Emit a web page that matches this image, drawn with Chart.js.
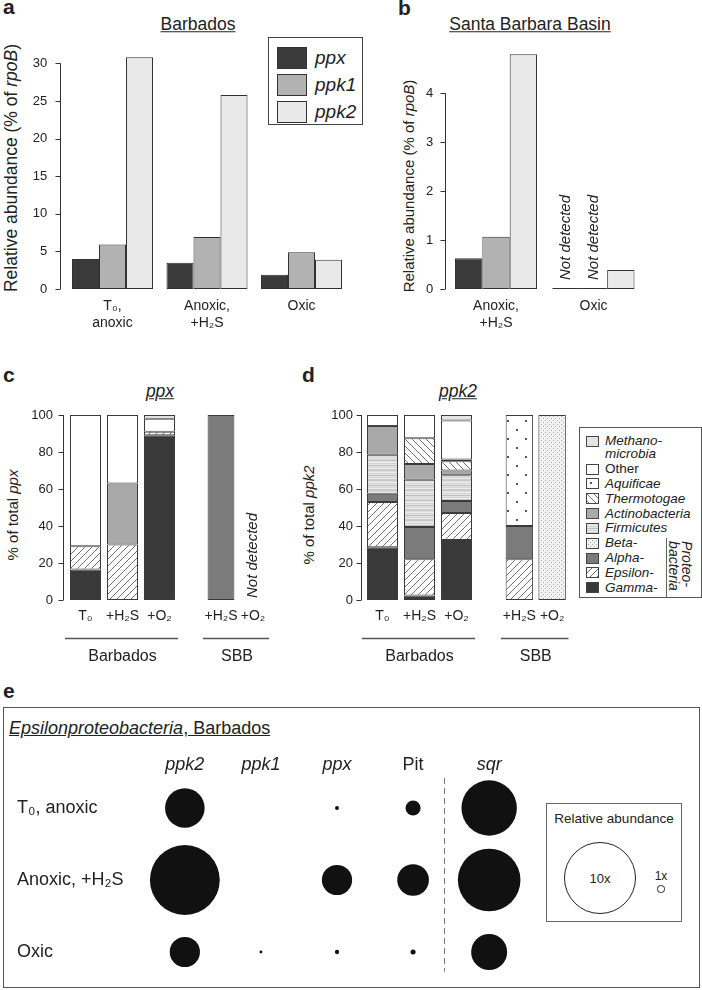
<!DOCTYPE html>
<html>
<head>
<meta charset="utf-8">
<title>Polyphosphate genes - Barbados / Santa Barbara Basin</title>
<script src="https://cdn.jsdelivr.net/npm/chart.js@4.4.1/dist/chart.umd.min.js"></script>
<style>
  body { margin: 0; background: #fff; }
  #page { position: relative; width: 702px; height: 990px; overflow: hidden;
          font-family: "Liberation Sans", Arial, sans-serif; color: #222; }
  #page canvas { position: absolute; }
  .txt { position: absolute; white-space: nowrap; line-height: 1; }
  .letter { font-size: 21px; font-weight: bold; }
  .title { font-size: 17.5px; text-decoration: underline; transform: translate(-50%, -50%); }
  .ytitle { font-size: 15px; transform: translate(-50%, -50%) rotate(-90deg); }
  .box { position: absolute; box-sizing: border-box; border: 1.5px solid #444; background: #fff; }
  .sw { position: absolute; box-sizing: border-box; border: 1.5px solid #333; }
</style>
</head>
<body>
<div id="page">
  <!-- panel letters and titles -->
  <div class="txt letter" style="left:3px;top:-4px">a</div>
  <div class="txt letter" style="left:398px;top:-3px">b</div>
  <div class="txt letter" style="left:3px;top:364px">c</div>
  <div class="txt letter" style="left:302px;top:364px">d</div>
  <div class="txt letter" style="left:3px;top:680px">e</div>

  <div class="txt title" style="left:198px;top:25px">Barbados</div>
  <div class="txt title" style="left:530px;top:25px">Santa Barbara Basin</div>
  <div class="txt title" style="left:160px;top:392px"><i>ppx</i></div>
  <div class="txt title" style="left:458px;top:392px"><i>ppk2</i></div>

  <div class="txt ytitle" style="left:12px;top:168px;font-size:17.5px">Relative abundance (% of <i>rpoB</i>)</div>
  <div class="txt ytitle" style="left:408px;top:186px">Relative abundance (% of <i>rpoB</i>)</div>
  <div class="txt ytitle" style="left:12px;top:515px">% of total <i>ppx</i></div>
  <div class="txt ytitle" style="left:308px;top:515px">% of total <i>ppk2</i></div>

  <canvas id="chartA" width="360" height="310" style="left:0;top:30px"></canvas>
  <canvas id="chartB" width="342" height="310" style="left:360px;top:30px"></canvas>
  <canvas id="chartC1" width="190" height="300" style="left:0;top:380px"></canvas>
  <canvas id="chartC2" width="100" height="300" style="left:185px;top:380px"></canvas>
  <canvas id="chartD1" width="195" height="300" style="left:290px;top:380px"></canvas>
  <canvas id="chartD2" width="95" height="300" style="left:485px;top:380px"></canvas>

  <div id="legendA"></div>
  <div id="legendD"></div>

  <!-- panel e -->
  <div class="box" style="left:3px;top:707px;width:697px;height:281px;border-color:#555"></div>
  <div class="txt" style="left:9px;top:719px;font-size:18px;text-decoration:underline"><i>Epsilonproteobacteria</i>, Barbados</div>
  <canvas id="chartE" width="695" height="279" style="left:4px;top:708px"></canvas>
  <div id="legendE"></div>
</div>

<script>
const FONT = "'Liberation Sans', Arial, sans-serif";
const INK = '#333';

// ---- panels a and b: relative abundance (% of rpoB) ----
const GENES = ['ppx', 'ppk1', 'ppk2'];
const GENE_COLORS = ['#3b3b3b', '#b2b2b2', '#e9e9e9'];

const BARBADOS_SAMPLES = [['T₀,', 'anoxic'], ['Anoxic,', '+H₂S'], 'Oxic'];
const BARBADOS_PPX = [4.0, 3.5, 1.9];
const BARBADOS_PPK1 = [5.9, 6.9, 4.9];
const BARBADOS_PPK2 = [30.8, 25.8, 3.9];
const BARBADOS_TICKS = [0, 5, 10, 15, 20, 25, 30];

const SBB_SAMPLES = [['Anoxic,', '+H₂S'], 'Oxic'];
const SBB_PPX = [0.63, 0];     // 0 = not detected
const SBB_PPK1 = [1.07, 0];
const SBB_PPK2 = [4.8, 0.39];
const SBB_TICKS = [0, 1, 2, 3, 4];

// ---- panels c and d: taxonomic share (%) ----
// stacking order, bottom to top
const TAXA = ['Gamma-', 'Epsilon-', 'Alpha-', 'Beta-', 'Firmicutes', 'Actinobacteria',
              'Thermotogae', 'Aquificae', 'Other', 'Methano-\nmicrobia'];
const TREATMENTS = ['T₀', '+H₂S', '+O₂'];
const SBB_TREATMENTS = ['+H₂S', '+O₂'];
const PCT_TICKS = [0, 20, 40, 60, 80, 100];

// rows follow TAXA; columns: Barbados T0, +H2S, +O2, SBB +H2S, SBB +O2
const PPX_SHARE = [
  [16.5, 0, 89, 0, 0],
  [12.5, 30, 2, 0, 0],
  [0, 0, 0, 100, 0],
  [0, 0, 0, 0, 0],
  [0, 0, 0, 0, 0],
  [0, 33, 0, 0, 0],
  [0, 0, 0, 0, 0],
  [0, 0, 0, 0, 0],
  [71, 37, 7, 0, 0],
  [0, 0, 2, 0, 0]
];
const PPK2_SHARE = [
  [28.5, 2.5, 32.5, 0, 0],
  [24.5, 19.5, 14.5, 22, 0],
  [4.5, 17.5, 6.5, 18, 0],
  [0, 0, 0, 0, 100],
  [21, 25.5, 14, 0, 0],
  [15.5, 8.5, 2.5, 0, 0],
  [0, 14, 5, 0, 0],
  [0, 0, 1, 60, 0],
  [6, 12.5, 21, 0, 0],
  [0, 0, 3, 0, 0]
];

// ---- panel e: Epsilonproteobacteria, Barbados (x-fold relative abundance) ----
const E_GENES = ['ppk2', 'ppk1', 'ppx', 'Pit', 'sqr'];
const E_CONDITIONS = ['T₀, anoxic', 'Anoxic, +H₂S', 'Oxic'];
const E_PPK2 = [5.5, 9.7, 4.2];
const E_PPK1 = [0, 0, 0.4];
const E_PPX = [0.55, 4.2, 0.6];
const E_PIT = [2.1, 4.4, 0.7];
const E_SQR = [7.7, 8.7, 5.0];
const R_PER_X = 3.6;   // bubble radius (px) for 1x

Chart.defaults.font.family = FONT;
Chart.defaults.font.size = 13;
Chart.defaults.color = '#222';
Chart.defaults.animation = false;
Chart.defaults.plugins.legend.display = false;
Chart.defaults.plugins.tooltip.enabled = false;

// fill patterns
function makePattern(w, h, paint) {
  const c = document.createElement('canvas');
  c.width = w; c.height = h;
  const g = c.getContext('2d');
  g.fillStyle = '#fff';
  g.fillRect(0, 0, w, h);
  paint(g, w, h);
  return g.createPattern(c, 'repeat');
}
function hatch(dir) {
  return makePattern(7, 7, (g, s) => {
    g.strokeStyle = '#6e6e6e';
    g.lineWidth = 1;
    g.beginPath();
    for (let k = -1; k <= 1; k++) {
      if (dir > 0) { g.moveTo(k * s - 1, s + 1); g.lineTo(k * s + s + 1, -1); }
      else { g.moveTo(k * s - 1, -1); g.lineTo(k * s + s + 1, s + 1); }
    }
    g.stroke();
  });
}
const PAT_EPSILON = hatch(1);
const PAT_THERMO = hatch(-1);
const PAT_FIRMI = makePattern(2, 10, (g) => {
  ['#c9c9c9', '#dedede', '#eeeeee', '#d2d2d2', '#e6e6e6', '#bfbfbf', '#e2e2e2', '#d6d6d6', '#ececec', '#cccccc']
    .forEach((col, i) => { g.fillStyle = col; g.fillRect(0, i, 2, 1); });
});
const PAT_AQUI = makePattern(18, 18, (g) => {
  g.fillStyle = '#555';
  g.fillRect(4, 4, 2, 2);
  g.fillRect(13, 13, 2, 2);
});
const PAT_BETA = makePattern(4, 4, (g) => {
  g.fillStyle = '#f3f3f3';
  g.fillRect(0, 0, 4, 4);
  g.fillStyle = '#a5a5a5';
  g.fillRect(0, 0, 1, 1);
  g.fillRect(2, 2, 1, 1);
});
const TAXON_FILLS = ['#393939', PAT_EPSILON, '#7b7b7b', PAT_BETA, PAT_FIRMI, '#a9a9a9',
                     PAT_THERMO, PAT_AQUI, '#ffffff', '#e4e4e4'];

// extra drawing: R-style axes, zero bars, "Not detected", group labels, bubble grid text
const figurePlugin = {
  id: 'figure',
  afterDatasetsDraw(chart, args, o) {
    const ctx = chart.ctx;
    const area = chart.chartArea;
    const xs = chart.scales.x;
    const ys = chart.scales.y;
    ctx.save();
    ctx.strokeStyle = INK;
    ctx.fillStyle = '#222';
    ctx.lineWidth = 1;

    if (o.axisGap != null) {
      const ax = Math.round(area.left - o.axisGap) + 0.5;
      const vals = ys.ticks.map(t => t.value);
      ctx.beginPath();
      ctx.moveTo(ax, ys.getPixelForValue(vals[0]));
      ctx.lineTo(ax, ys.getPixelForValue(vals[vals.length - 1]));
      vals.forEach(v => {
        const py = Math.round(ys.getPixelForValue(v)) + 0.5;
        ctx.moveTo(ax, py);
        ctx.lineTo(ax - 5, py);
      });
      ctx.stroke();
    }

    if (o.zeroLines) {
      ctx.beginPath();
      chart.data.datasets.forEach((ds, di) => {
        chart.getDatasetMeta(di).data.forEach((bar, i) => {
          if (ds.data[i] === 0) {
            const by = Math.round(bar.base) - 0.5;
            ctx.moveTo(bar.x - bar.width / 2, by);
            ctx.lineTo(bar.x + bar.width / 2, by);
          }
        });
      });
      ctx.stroke();
    }

    if (o.notDetected) {
      const spots = [];
      if (o.notDetected.stacked) {
        chart.data.labels.forEach((l, i) => {
          const total = chart.data.datasets.reduce((s, ds) => s + (ds.data[i] || 0), 0);
          if (total === 0) spots.push(xs.getPixelForValue(i));
        });
      } else {
        chart.data.datasets.forEach((ds, di) => {
          chart.getDatasetMeta(di).data.forEach((bar, i) => {
            if (ds.data[i] === 0) spots.push(bar.x);
          });
        });
      }
      ctx.font = 'italic 15px ' + FONT;
      ctx.textAlign = 'left';
      ctx.textBaseline = 'middle';
      spots.forEach(x => {
        ctx.save();
        ctx.translate(x, ys.getPixelForValue(0) - o.notDetected.offset);
        ctx.rotate(-Math.PI / 2);
        ctx.fillText('Not detected', 0, 0);
        ctx.restore();
      });
    }

    if (o.group) {
      const gy = Math.round(area.bottom + 38) + 0.5;
      ctx.strokeStyle = '#555';
      ctx.lineWidth = 1.5;
      ctx.beginPath();
      ctx.moveTo(area.left - 2, gy);
      ctx.lineTo(area.right, gy);
      ctx.stroke();
      ctx.font = '16px ' + FONT;
      ctx.textAlign = 'center';
      ctx.textBaseline = 'middle';
      ctx.fillText(o.group, (area.left + area.right) / 2, area.bottom + 57);
    }

    if (o.bubbleGrid) {
      ctx.textBaseline = 'middle';
      ctx.textAlign = 'center';
      E_GENES.forEach((g, i) => {
        ctx.font = (g === 'Pit' ? '' : 'italic ') + '18px ' + FONT;
        ctx.fillText(g, xs.getPixelForValue(i), area.top - 7);
      });
      ctx.textAlign = 'left';
      ctx.font = '18px ' + FONT;
      E_CONDITIONS.forEach((c, i) => ctx.fillText(c, 13, ys.getPixelForValue(i)));
      const sx = Math.round(xs.getPixelForValue(o.bubbleGrid.separator)) + 0.5;
      ctx.strokeStyle = '#777';
      ctx.lineWidth = 1;
      ctx.setLineDash([6, 4]);
      ctx.beginPath();
      ctx.moveTo(sx, area.top + 6);
      ctx.lineTo(sx, area.bottom - 9);
      ctx.stroke();
    }
    ctx.restore();
  }
};
Chart.register(figurePlugin);

// options with a pinned chart area (canvas coordinates)
function pinnedScales(f, yMax, ticks, stacked, tickFont) {
  return {
    x: {
      stacked: stacked,
      grid: { display: false, drawTicks: false },
      border: { display: false },
      ticks: { padding: f.xPad, font: { size: tickFont }, maxRotation: 0, autoSkip: false },
      afterFit: s => { s.height = f.h - f.bottom; }
    },
    y: {
      stacked: stacked,
      display: f.yAxis,
      min: 0,
      max: yMax,
      grid: { display: false, drawTicks: false },
      border: { display: false },
      ticks: { padding: f.tickPad, font: { size: 13 } },
      afterBuildTicks: s => { s.ticks = ticks.map(v => ({ value: v })); },
      afterFit: s => { s.width = f.left; }
    }
  };
}

function geneChart(id, labels, series, ticks, yMax, f, extra) {
  return new Chart(document.getElementById(id), {
    type: 'bar',
    data: {
      labels: labels,
      datasets: GENES.map((g, i) => ({
        label: g,
        data: series[i],
        backgroundColor: GENE_COLORS[i],
        borderColor: INK,
        borderWidth: 1,
        borderSkipped: false,
        categoryPercentage: f.catPct,
        barPercentage: 1
      }))
    },
    options: {
      responsive: false,
      layout: { autoPadding: false, padding: { left: 0, right: f.w - f.right, top: f.top, bottom: 0 } },
      scales: pinnedScales(Object.assign({ yAxis: true, xPad: 9 }, f), yMax, ticks, false, 14),
      plugins: { figure: Object.assign({ axisGap: f.gap }, extra) }
    }
  });
}

function shareChart(id, share, cols, labels, f, extra) {
  return new Chart(document.getElementById(id), {
    type: 'bar',
    data: {
      labels: labels,
      datasets: TAXA.map((t, i) => ({
        label: t,
        data: cols.map(c => share[i][c] || null),
        backgroundColor: TAXON_FILLS[i],
        borderColor: '#3a3a3a',
        borderWidth: 1,
        borderSkipped: false,
        categoryPercentage: 31 / 37,
        barPercentage: 1
      }))
    },
    options: {
      responsive: false,
      layout: { autoPadding: false, padding: { left: f.yAxis ? 0 : f.left, right: f.w - f.right, top: f.top, bottom: 0 } },
      scales: pinnedScales(Object.assign({ xPad: 8 }, f), 100, PCT_TICKS, true, 14),
      plugins: { figure: Object.assign(f.yAxis ? { axisGap: f.gap } : {}, extra) }
    }
  });
}

// panel a
geneChart('chartA', BARBADOS_SAMPLES, [BARBADOS_PPX, BARBADOS_PPK1, BARBADOS_PPK2], BARBADOS_TICKS, 31,
  { w: 360, h: 310, left: 65.25, right: 348.75, top: 12, bottom: 259, gap: 5.25, tickPad: 18, catPct: 81 / 94.5 }, {});

// panel b
geneChart('chartB', SBB_SAMPLES, [SBB_PPX, SBB_PPK1, SBB_PPK2], SBB_TICKS, 4.85,
  { w: 342, h: 310, left: 87.25, right: 282.25, top: 10.4, bottom: 259, gap: 2.25, tickPad: 14, catPct: 82 / 97.5 },
  { zeroLines: true, notDetected: { stacked: false, offset: 9 } });

// panel c
shareChart('chartC1', PPX_SHARE, [0, 1, 2], TREATMENTS,
  { w: 190, h: 300, left: 67, right: 178, top: 35, bottom: 220, gap: 4, tickPad: 14, yAxis: true },
  { group: 'Barbados' });
shareChart('chartC2', PPX_SHARE, [3, 4], SBB_TREATMENTS,
  { w: 100, h: 300, left: 10, right: 84, top: 35, bottom: 220, yAxis: false },
  { group: 'SBB', notDetected: { stacked: true, offset: 2 } });

// panel d
shareChart('chartD1', PPK2_SHARE, [0, 1, 2], TREATMENTS,
  { w: 195, h: 300, left: 74, right: 185, top: 35, bottom: 220, gap: 3, tickPad: 11, yAxis: true },
  { group: 'Barbados' });
shareChart('chartD2', PPK2_SHARE, [3, 4], SBB_TREATMENTS,
  { w: 95, h: 300, left: 9, right: 83.5, top: 35, bottom: 220, yAxis: false },
  { group: 'SBB' });

// panel e (bubble grid)
const E_SERIES = [E_PPK2, E_PPK1, E_PPX, E_PIT, E_SQR];
const bubbles = [];
E_SERIES.forEach((vals, gi) => vals.forEach((v, ri) => {
  if (v > 0) bubbles.push({ x: gi, y: ri, r: v * R_PER_X });
}));
new Chart(document.getElementById('chartE'), {
  type: 'bubble',
  data: { datasets: [{ data: bubbles, backgroundColor: '#111', borderWidth: 0, hoverRadius: 0, clip: false }] },
  options: {
    responsive: false,
    layout: { autoPadding: false, padding: { left: 142.8, right: 171.8, top: 64, bottom: 6.2 } },
    scales: {
      x: { type: 'linear', min: -0.5, max: 4.5, display: false },
      y: { type: 'linear', min: -0.5, max: 2.4, reverse: true, display: false }
    },
    plugins: { figure: { bubbleGrid: { separator: 3.4 } } }
  }
});

// legend a
(function () {
  const host = document.getElementById('legendA');
  let html = '<div class="box" style="left:268px;top:37px;width:95px;height:88px"></div>';
  GENES.forEach((g, i) => {
    const cy = 58 + i * 27;
    html += '<div class="sw" style="left:277px;top:' + (cy - 11) + 'px;width:30px;height:22px;background:' + GENE_COLORS[i] + '"></div>';
    html += '<div class="txt" style="left:315px;top:' + (cy - 10) + 'px;font-size:19px;font-style:italic">' + g + '</div>';
  });
  host.innerHTML = html;
})();

// legend d (pattern swatches)
(function () {
  const host = document.getElementById('legendD');
  const page = document.getElementById('page');
  let html = '<div class="box" style="left:579px;top:427px;width:123px;height:171px;border-color:#555"></div>';
  let cy = 441;
  const rows = [];
  for (let i = TAXA.length - 1; i >= 0; i--) {
    const lines = TAXA[i].split('\n');
    rows.push({ i: i, cy: cy });
    lines.forEach((ln, k) => {
      html += '<div class="txt" style="left:605px;top:' + (cy + k * 13 - 7) + 'px;font-size:13.5px;' +
        (TAXA[i] === 'Other' ? '' : 'font-style:italic') + '">' + ln + '</div>';
    });
    cy += 14.85 + (lines.length - 1) * 13.15;
  }
  html += '<div style="position:absolute;left:666px;top:538px;width:1px;height:59px;background:#666"></div>';
  html += '<div class="txt" style="left:680px;top:566px;font-size:14px;font-style:italic;line-height:13px;text-align:left;' +
    'transform:translate(-50%,-50%) rotate(90deg)">Proteo-<br>bacteria</div>';
  host.innerHTML = html;
  rows.forEach(r => {
    const c = document.createElement('canvas');
    c.width = 13; c.height = 11;
    c.style.left = '586px';
    c.style.top = Math.round(r.cy - 5.5) + 'px';
    const g = c.getContext('2d');
    g.fillStyle = TAXON_FILLS[r.i];
    g.fillRect(0, 0, 13, 11);
    g.strokeStyle = '#444';
    g.lineWidth = 1;
    g.strokeRect(0.5, 0.5, 12, 10);
    page.appendChild(c);
  });
})();

// legend e (circle scale)
(function () {
  const host = document.getElementById('legendE');
  const big = 10 * R_PER_X, small = 1 * R_PER_X;
  host.innerHTML =
    '<div class="box" style="left:546px;top:803px;width:136px;height:119px;border-color:#666"></div>' +
    '<div class="txt" style="left:614px;top:819px;font-size:13.5px;transform:translate(-50%,-50%)">Relative abundance</div>' +
    '<div style="position:absolute;box-sizing:border-box;border:1.5px solid #222;border-radius:50%;left:' + (600 - big) + 'px;top:' + (878 - big) +
      'px;width:' + 2 * big + 'px;height:' + 2 * big + 'px"></div>' +
    '<div class="txt" style="left:600px;top:878px;font-size:13px;transform:translate(-50%,-50%)">10x</div>' +
    '<div style="position:absolute;box-sizing:border-box;border:1.5px solid #222;border-radius:50%;left:' + (661 - small) + 'px;top:' + (889 - small) +
      'px;width:' + 2 * small + 'px;height:' + 2 * small + 'px"></div>' +
    '<div class="txt" style="left:661px;top:876px;font-size:12px;transform:translate(-50%,-50%)">1x</div>';
})();
</script>
</body>
</html>
